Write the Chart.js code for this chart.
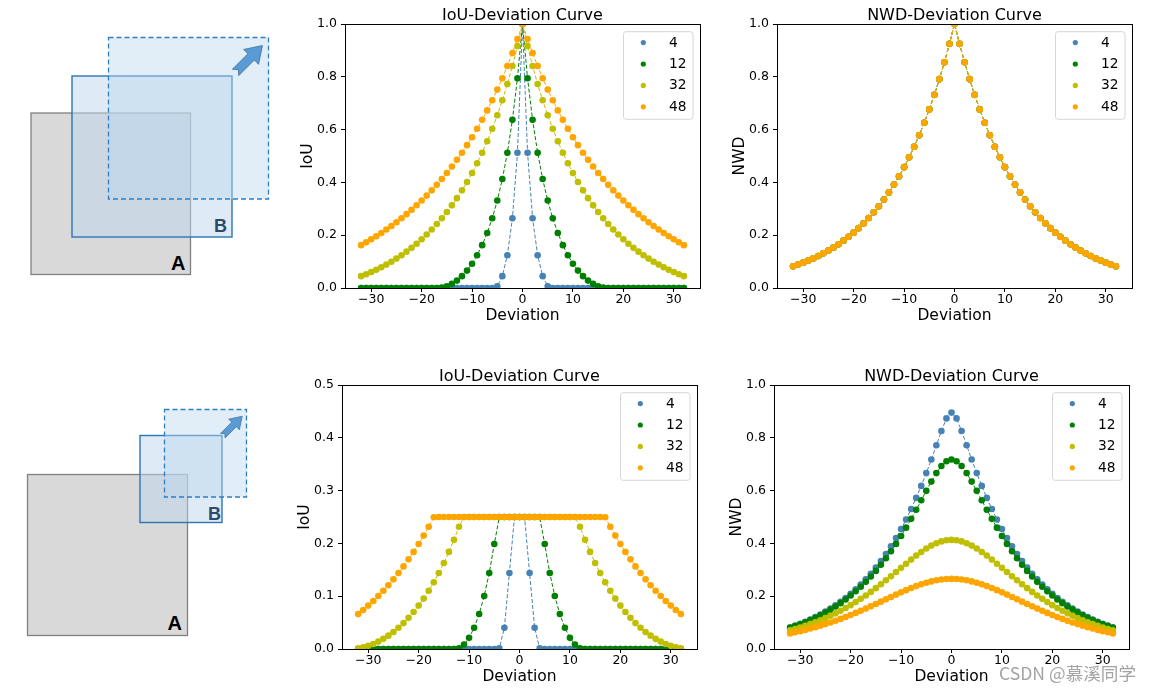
<!DOCTYPE html>
<html>
<head>
<meta charset="utf-8">
<script src="https://cdn.jsdelivr.net/npm/chart.js@4.4.1/dist/chart.umd.min.js"></script>
<style>
  html, body { margin: 0; padding: 0; background: #fff; overflow: hidden; }
  body { width: 1152px; height: 692px; position: relative; }
  canvas { position: absolute; }
  #boxes { position: absolute; left: 0; top: 0; }
  #mark { position: absolute; left: 999px; top: 660px; font: 17.6px "Noto Sans CJK SC", "Noto Sans", sans-serif; color: #a3a3a3; white-space: nowrap; }
</style>
</head>
<body>

<!-- left: box sketches -->
<svg id="boxes" width="290" height="692" xmlns="http://www.w3.org/2000/svg">
  <rect x="31" y="113" width="159.5" height="161.5" fill="#d9d9d9" stroke="#808080" stroke-width="1.3"/>
  <rect x="72" y="76" width="160" height="161" fill="rgba(189,215,238,0.5)" stroke="#2e75b6" stroke-width="1.4"/>
  <rect x="108.5" y="37.5" width="160" height="161.5" fill="rgba(189,215,238,0.45)" stroke="#2f7fc4" stroke-width="1.3" stroke-dasharray="5 3"/>
  <polygon transform="translate(249,59) rotate(-45)" points="-19,-4.5 3,-4.5 3,-10.5 19,0 3,10.5 3,4.5 -19,4.5 -15,0" fill="#5b9bd5" stroke="#41719c" stroke-width="0.8"/>
  <text x="185.5" y="269.5" text-anchor="end" font-family="Liberation Sans, Arial, sans-serif" font-weight="bold" font-size="20" fill="#000">A</text>
  <text x="227" y="231.5" text-anchor="end" font-family="Liberation Sans, Arial, sans-serif" font-weight="bold" font-size="18" fill="#2c4a6b">B</text>

  <rect x="27.5" y="474.5" width="160" height="161" fill="#d9d9d9" stroke="#808080" stroke-width="1.3"/>
  <rect x="140" y="435.5" width="82" height="87" fill="rgba(189,215,238,0.5)" stroke="#2e75b6" stroke-width="1.4"/>
  <rect x="164.5" y="409.5" width="82" height="87.5" fill="rgba(189,215,238,0.45)" stroke="#2f7fc4" stroke-width="1.3" stroke-dasharray="5 3"/>
  <polygon transform="translate(232.5,426) rotate(-45) scale(0.72)" points="-19,-4.5 3,-4.5 3,-10.5 19,0 3,10.5 3,4.5 -19,4.5 -15,0" fill="#5b9bd5" stroke="#41719c" stroke-width="1"/>
  <text x="182" y="630" text-anchor="end" font-family="Liberation Sans, Arial, sans-serif" font-weight="bold" font-size="20" fill="#000">A</text>
  <text x="221" y="520" text-anchor="end" font-family="Liberation Sans, Arial, sans-serif" font-weight="bold" font-size="18" fill="#2c4a6b">B</text>
</svg>

<canvas id="iouTop" width="437" height="334" style="left:275px;top:0px"></canvas>
<canvas id="nwdTop" width="437" height="334" style="left:707px;top:0px"></canvas>
<canvas id="iouBottom" width="437" height="334" style="left:272px;top:361px"></canvas>
<canvas id="nwdBottom" width="437" height="334" style="left:704px;top:361px"></canvas>

<div id="mark">CSDN @慕溪同学</div>

<script>
const FONT = '"DejaVu Sans", sans-serif';

// box sizes (legend) and colours
const sizes = ['4', '12', '32', '48'];
const colors = ['#4682b4', '#008000', '#bfbf00', '#ffa500'];

const deviation = [-32,-31,-30,-29,-28,-27,-26,-25,-24,-23,-22,-21,-20,-19,-18,-17,-16,-15,-14,-13,-12,-11,-10,-9,-8,-7,-6,-5,-4,-3,-2,-1,
  0,1,2,3,4,5,6,7,8,9,10,11,12,13,14,15,16,17,18,19,20,21,22,23,24,25,26,27,28,29,30,31,32];

const xTicks = [-30, -20, -10, 0, 10, 20, 30];
const yTicksUnit = [0, 0.2, 0.4, 0.6, 0.8, 1.0];
const yTicksHalf = [0, 0.1, 0.2, 0.3, 0.4, 0.5];

// top row: same size boxes
const iouTop4 = [
  0,0,0,0,0,0,0,0,0, 0,0,0,0,0,0,0,0,0, 0,0,0,0,0,0,0,0,0,
  0.0068,0.0448,0.124,0.2641,0.5125,
  1,
  0.5125,0.2641,0.124,0.0448,0.0068,
  0,0,0,0,0,0,0,0,0, 0,0,0,0,0,0,0,0,0, 0,0,0,0,0,0,0,0,0];
const iouTop12 = [
  0,0,0,0,0,0,0,0, 0,0,0,0,0,0,0,0,
  0.0016,0.0068,0.0156,0.0281,0.0448,0.066,0.0921,0.124,0.1624,0.2086,0.2641,0.3312,0.4126,0.5125,0.6369,0.7947,
  1,
  0.7947,0.6369,0.5125,0.4126,0.3312,0.2641,0.2086,0.1624,0.124,0.0921,0.066,0.0448,0.0281,0.0156,0.0068,0.0016,
  0,0,0,0,0,0,0,0, 0,0,0,0,0,0,0,0];
const iouTop32 = [
  0.0448,0.0522,0.0602,0.069,0.0784,0.0886,0.0995,0.1113,0.124,0.1376,0.1521,0.1677,0.1845,0.2024,0.2216,0.2422,
  0.2641,0.2877,0.3131,0.3404,0.3698,0.4014,0.4356,0.4725,0.5125,0.5558,0.6031,0.6545,0.7109,0.7727,0.8409,0.9162,
  1,
  0.9162,0.8409,0.7727,0.7109,0.6545,0.6031,0.5558,0.5125,0.4725,0.4356,0.4014,0.3698,0.3404,0.3131,0.2877,0.2641,
  0.2422,0.2216,0.2024,0.1845,0.1677,0.1521,0.1376,0.124,0.1113,0.0995,0.0886,0.0784,0.069,0.0602,0.0522,0.0448];
const iouTop48 = [
  0.1624,0.1732,0.1844,0.1962,0.2086,0.2215,0.2351,0.2493,0.2641,0.2797,0.2961,0.3132,0.3312,0.35,0.3699,0.3907,
  0.4126,0.4356,0.46,0.4855,0.5125,0.5411,0.5712,0.6031,0.6369,0.6728,0.7109,0.7515,0.7947,0.8409,0.8902,0.9432,
  1,
  0.9432,0.8902,0.8409,0.7947,0.7515,0.7109,0.6728,0.6369,0.6031,0.5712,0.5411,0.5125,0.4855,0.46,0.4356,0.4126,
  0.3907,0.3699,0.35,0.3312,0.3132,0.2961,0.2797,0.2641,0.2493,0.2351,0.2215,0.2086,0.1962,0.1844,0.1732,0.1624];
// all four sizes give the same NWD curve
const nwdTop = [
  0.0821,0.0888,0.096,0.1038,0.1122,0.1213,0.1312,0.1418,0.1534,0.1658,0.1793,0.1939,0.2096,0.2267,0.2451,0.265,
  0.2865,0.3098,0.335,0.3622,0.3916,0.4234,0.4578,0.495,0.5353,0.5788,0.6258,0.6766,0.7316,0.7911,0.8553,0.9249,
  1,
  0.9249,0.8553,0.7911,0.7316,0.6766,0.6258,0.5788,0.5353,0.495,0.4578,0.4234,0.3916,0.3622,0.335,0.3098,0.2865,
  0.265,0.2451,0.2267,0.2096,0.1939,0.1793,0.1658,0.1534,0.1418,0.1312,0.1213,0.1122,0.1038,0.096,0.0888,0.0821];

// bottom row: small box against a box twice its size
const iouBot4 = [
  0,0,0,0,0,0,0,0,0,0, 0,0,0,0,0,0,0,0,0,0, 0,0,0,0,0,0,0,0,
  0.0015,0.0402,0.1438,0.25,
  0.25,
  0.25,0.1438,0.0402,0.0015,
  0,0,0,0,0,0,0,0,0,0, 0,0,0,0,0,0,0,0,0,0, 0,0,0,0,0,0,0,0];
const iouBot12 = [
  0,0,0,0,0,0,0,0,0,0, 0,0,0,0,0,0,0,0,0,0,
  0.0015,0.0084,0.0211,0.0402,0.0662,0.1003,0.1438,0.1989,0.25,0.25,0.25,0.25,
  0.25,
  0.25,0.25,0.25,0.25,0.1989,0.1438,0.1003,0.0662,0.0402,0.0211,0.0084,0.0015,
  0,0,0,0,0,0,0,0,0,0, 0,0,0,0,0,0,0,0,0,0];
const iouBot32 = [
  0.0015,0.0034,0.0061,0.0096,0.014,0.0192,0.0253,0.0322,0.0402,0.0491,0.059,0.07,0.0822,0.0955,0.1102,0.1263,
  0.1438,0.163,0.1839,0.2067,0.2316,
  0.25,0.25,0.25,0.25,0.25,0.25,0.25,0.25,0.25,0.25, 0.25,0.25,0.25,0.25,0.25,0.25,0.25,0.25,0.25,0.25, 0.25,0.25,0.25,
  0.2316,0.2067,0.1839,0.163,0.1438,0.1263,0.1102,0.0955,0.0822,0.07,0.059,0.0491,0.0402,0.0322,0.0253,0.0192,
  0.014,0.0096,0.0061,0.0034,0.0015];
const iouBot48 = [
  0.0662,0.0739,0.0822,0.0909,0.1003,0.1102,0.1208,0.1319,0.1438,0.1564,0.1698,0.1839,0.1989,0.2148,0.2316,0.2494,
  0.25,0.25,0.25,0.25,0.25,0.25,0.25,0.25,0.25,0.25, 0.25,0.25,0.25,0.25,0.25,0.25,0.25,0.25,0.25,0.25,
  0.25,0.25,0.25,0.25,0.25,0.25,0.25,0.25,0.25,0.25, 0.25,0.25,0.25,
  0.2494,0.2316,0.2148,0.1989,0.1839,0.1698,0.1564,0.1438,0.1319,0.1208,0.1102,0.1003,0.0909,0.0822,0.0739,0.0662];
const nwdBot4 = [
  0.0819,0.0885,0.0957,0.1035,0.1119,0.121,0.1308,0.1414,0.1529,0.1653,0.1787,0.1931,0.2088,0.2257,0.244,0.2638,
  0.2851,0.3082,0.3331,0.36,0.3891,0.4204,0.4543,0.4908,0.5301,0.5724,0.6178,0.6663,0.7179,0.7717,0.8258,0.8734,
  0.8954,
  0.8734,0.8258,0.7717,0.7179,0.6663,0.6178,0.5724,0.5301,0.4908,0.4543,0.4204,0.3891,0.36,0.3331,0.3082,0.2851,
  0.2638,0.244,0.2257,0.2088,0.1931,0.1787,0.1653,0.1529,0.1414,0.1308,0.121,0.1119,0.1035,0.0957,0.0885,0.0819];
const nwdBot12 = [
  0.0803,0.0868,0.0938,0.1013,0.1094,0.1182,0.1277,0.1379,0.149,0.1609,0.1737,0.1875,0.2025,0.2185,0.2358,0.2544,
  0.2744,0.2959,0.3189,0.3436,0.37,0.3981,0.428,0.4596,0.4929,0.5276,0.5632,0.5991,0.6341,0.6663,0.6932,0.7114,
  0.7179,
  0.7114,0.6932,0.6663,0.6341,0.5991,0.5632,0.5276,0.4929,0.4596,0.428,0.3981,0.37,0.3436,0.3189,0.2959,0.2744,
  0.2544,0.2358,0.2185,0.2025,0.1875,0.1737,0.1609,0.149,0.1379,0.1277,0.1182,0.1094,0.1013,0.0938,0.0868,0.0803];
const nwdBot32 = [
  0.0705,0.0759,0.0817,0.0879,0.0945,0.1016,0.1091,0.1172,0.1258,0.135,0.1448,0.1551,0.1661,0.1777,0.19,0.2028,
  0.2163,0.2304,0.2451,0.2602,0.2757,0.2915,0.3074,0.3232,0.3387,0.3537,0.3677,0.3805,0.3916,0.4007,0.4076,0.4118,
  0.4132,
  0.4118,0.4076,0.4007,0.3916,0.3805,0.3677,0.3537,0.3387,0.3232,0.3074,0.2915,0.2757,0.2602,0.2451,0.2304,0.2163,
  0.2028,0.19,0.1777,0.1661,0.1551,0.1448,0.135,0.1258,0.1172,0.1091,0.1016,0.0945,0.0879,0.0817,0.0759,0.0705];
const nwdBot48 = [
  0.059,0.0632,0.0677,0.0724,0.0775,0.0828,0.0884,0.0944,0.1006,0.1072,0.1141,0.1213,0.1288,0.1367,0.1448,0.1531,
  0.1617,0.1704,0.1793,0.1882,0.1971,0.206,0.2146,0.223,0.2309,0.2383,0.2451,0.251,0.2561,0.2602,0.2632,0.265,
  0.2656,
  0.265,0.2632,0.2602,0.2561,0.251,0.2451,0.2383,0.2309,0.223,0.2146,0.206,0.1971,0.1882,0.1793,0.1704,0.1617,
  0.1531,0.1448,0.1367,0.1288,0.1213,0.1141,0.1072,0.1006,0.0944,0.0884,0.0828,0.0775,0.0724,0.0677,0.0632,0.059];

// black box round the plot area (matplotlib spines) + title centred on it
const framePlugin = {
  id: 'frame',
  afterDatasetsDraw(chart, args, opts) {
    const a = chart.chartArea;
    const ctx = chart.ctx;
    ctx.save();
    ctx.strokeStyle = '#000';
    ctx.lineWidth = 1;
    ctx.strokeRect(Math.round(a.left) + 0.5, Math.round(a.top) + 0.5,
      Math.round(a.right - a.left), Math.round(a.bottom - a.top));
    ctx.fillStyle = '#000';
    ctx.font = '16px ' + FONT;
    ctx.textAlign = 'center';
    ctx.textBaseline = 'alphabetic';
    ctx.fillText(opts.text, (a.left + a.right) / 2, a.top - 4);
    ctx.restore();
  }
};

// legend box in the upper right corner of the plot
const legendPlugin = {
  id: 'cornerLegend',
  afterDraw(chart) {
    const a = chart.chartArea;
    const ctx = chart.ctx;
    ctx.save();
    const bx = a.right - 76.5, by = a.top + 7.7, bw = 69.5, bh = 87.6;
    ctx.beginPath();
    ctx.roundRect(bx, by, bw, bh, 2.5);
    ctx.fillStyle = 'rgba(255,255,255,0.8)';
    ctx.fill();
    ctx.strokeStyle = '#d6d6d6';
    ctx.lineWidth = 1;
    ctx.stroke();
    ctx.font = '13.8px ' + FONT;
    ctx.textBaseline = 'middle';
    ctx.textAlign = 'left';
    sizes.forEach((s, i) => {
      const y = a.top + 18.6 + i * 21.4;
      ctx.beginPath();
      ctx.arc(a.right - 56.7, y, 2.6, 0, Math.PI * 2);
      ctx.fillStyle = colors[i];
      ctx.fill();
      ctx.fillStyle = '#000';
      ctx.fillText(s, a.right - 31, y + 0.5);
    });
    ctx.restore();
  }
};

function makeChart(id, title, yTitle, yMax, yTicks, seriesList) {
  const ctx = document.getElementById(id).getContext('2d');
  return new Chart(ctx, {
    type: 'line',
    data: {
      datasets: seriesList.map((vals, i) => ({
        label: sizes[i],
        data: deviation.map((d, j) => ({ x: d, y: vals[j] })),
        borderColor: colors[i],
        backgroundColor: colors[i],
        borderWidth: 1,
        borderDash: [4, 2],
        pointRadius: 3.3,
        pointBorderWidth: 0,
        pointBackgroundColor: colors[i],
        order: 3 - i, // later sizes on top
        clip: 0
      }))
    },
    options: {
      responsive: false,
      animation: false,
      layout: { padding: { left: 0, right: 12, top: 24, bottom: 0 } },
      plugins: {
        legend: { display: false },
        tooltip: { enabled: false },
        frame: { text: title }
      },
      scales: {
        x: {
          type: 'linear', min: -35.2, max: 35.2,
          afterBuildTicks: s => { s.ticks = xTicks.map(v => ({ value: v })); },
          afterFit: s => { s.height = 46; },
          grid: { display: true, drawOnChartArea: false, drawTicks: true, tickLength: 4, color: '#000' },
          border: { display: false },
          ticks: {
            color: '#000', padding: 0, maxRotation: 0,
            font: { family: FONT, size: 12.5 },
            callback: v => String(v).replace('-', '\u2212')
          },
          title: {
            display: true, text: 'Deviation', color: '#000',
            font: { family: FONT, size: 15.5 }, padding: { top: 0, bottom: 8.4 }
          }
        },
        y: {
          type: 'linear', min: 0, max: yMax,
          afterBuildTicks: s => { s.ticks = yTicks.map(v => ({ value: v })); },
          afterFit: s => { s.width = 70; },
          grid: { display: true, drawOnChartArea: false, drawTicks: true, tickLength: 4, color: '#000' },
          border: { display: false },
          ticks: {
            color: '#000', padding: 4,
            font: { family: FONT, size: 12.5 },
            callback: v => Number(v).toFixed(1)
          },
          title: {
            display: true, text: yTitle, color: '#000',
            font: { family: FONT, size: 15.5 }, padding: { top: 23.7, bottom: 0 }
          }
        }
      }
    },
    plugins: [framePlugin, legendPlugin]
  });
}

makeChart('iouTop', 'IoU-Deviation Curve', 'IoU', 1, yTicksUnit, [iouTop4, iouTop12, iouTop32, iouTop48]);
makeChart('nwdTop', 'NWD-Deviation Curve', 'NWD', 1, yTicksUnit, [nwdTop, nwdTop, nwdTop, nwdTop]);
makeChart('iouBottom', 'IoU-Deviation Curve', 'IoU', 0.5, yTicksHalf, [iouBot4, iouBot12, iouBot32, iouBot48]);
makeChart('nwdBottom', 'NWD-Deviation Curve', 'NWD', 1, yTicksUnit, [nwdBot4, nwdBot12, nwdBot32, nwdBot48]);
</script>
</body>
</html>
